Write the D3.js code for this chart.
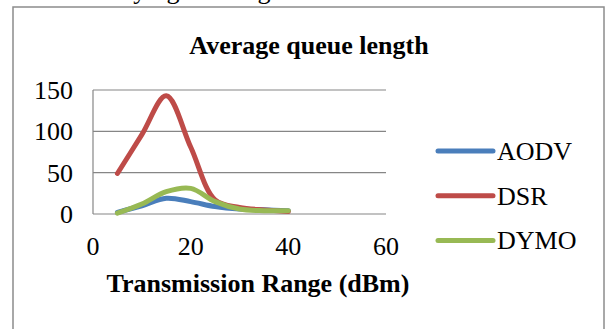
<!DOCTYPE html>
<html>
<head>
<meta charset="utf-8">
<script src="https://cdn.jsdelivr.net/npm/d3@7"></script>
<style>
  body { margin: 0; background: #fff; }
  svg { display: block; font-family: "Liberation Serif", "Times New Roman", serif; }
</style>
</head>
<body>
<div id="chart"></div>
<script>
// data
const ranges = [5, 10, 15, 20, 25, 30, 35, 40];
const aodv = [2, 10, 19, 15, 9, 6, 5, 4];
const dsr = [49, 96, 143, 81, 17, 8, 5, 3];
const dymo = [1, 12, 27, 31, 15, 6, 4, 4];
const seriesNames = ['AODV', 'DSR', 'DYMO'];
const seriesColors = ['#4a7ebb', '#be4b48', '#98b954'];
const xTicks = [0, 20, 40, 60];
const yTicks = [0, 50, 100, 150];

const W = 607, H = 329;
const plot = { left: 93, right: 386, top: 90, bottom: 214 };

const svg = d3.select('#chart').append('svg')
    .attr('width', W)
    .attr('height', H);

// bit of the page text above the chart, cut off by the top edge
svg.append('text')
    .attr('x', 100)
    .attr('y', -1)
    .style('font-size', '26px')
    .text('varying the range');

// chart frame
svg.append('rect')
    .attr('x', 13)
    .attr('y', 7)
    .attr('width', 591)
    .attr('height', 340)
    .attr('fill', 'none')
    .attr('stroke', '#8c8c8c')
    .attr('stroke-width', 1.5);

const x = d3.scaleLinear().domain([0, 60]).range([plot.left, plot.right]);
const y = d3.scaleLinear().domain([0, 150]).range([plot.bottom, plot.top]);

// gridlines
svg.append('g')
    .selectAll('line')
    .data(yTicks)
    .join('line')
    .attr('x1', plot.left)
    .attr('x2', plot.right)
    .attr('y1', d => y(d))
    .attr('y2', d => y(d))
    .attr('stroke', '#868686')
    .attr('stroke-width', 1.2);

// y axis line
svg.append('line')
    .attr('x1', plot.left)
    .attr('x2', plot.left)
    .attr('y1', plot.top)
    .attr('y2', plot.bottom)
    .attr('stroke', '#868686')
    .attr('stroke-width', 1.2);

// tick labels
svg.append('g')
    .selectAll('text')
    .data(yTicks)
    .join('text')
    .attr('x', plot.left - 20)
    .attr('y', d => y(d) + 9)
    .attr('text-anchor', 'end')
    .style('font-size', '26px')
    .text(d => d);

svg.append('g')
    .selectAll('text')
    .data(xTicks)
    .join('text')
    .attr('x', d => x(d))
    .attr('y', 255)
    .attr('text-anchor', 'middle')
    .style('font-size', '26px')
    .text(d => d);

// titles
svg.append('text')
    .attr('x', 309)
    .attr('y', 54)
    .attr('text-anchor', 'middle')
    .style('font-size', '26px')
    .style('font-weight', 'bold')
    .text('Average queue length');

svg.append('text')
    .attr('x', 258)
    .attr('y', 292)
    .attr('text-anchor', 'middle')
    .style('font-size', '26px')
    .style('font-weight', 'bold')
    .text('Transmission Range (dBm)');

// lines
const line = d3.line()
    .x(d => x(d[0]))
    .y(d => y(d[1]))
    .curve(d3.curveCatmullRom.alpha(0.5));

const allSeries = [aodv, dsr, dymo];
allSeries.forEach((vals, i) => {
    svg.append('path')
        .datum(d3.zip(ranges, vals))
        .attr('d', line)
        .attr('fill', 'none')
        .attr('stroke', seriesColors[i])
        .attr('stroke-width', 5)
        .attr('stroke-linecap', 'round')
        .attr('stroke-linejoin', 'round');
});

// legend
const legend = svg.append('g')
    .selectAll('g')
    .data(seriesNames)
    .join('g')
    .attr('transform', (d, i) => `translate(438,${151 + i * 44.7})`);

legend.append('line')
    .attr('x1', 0)
    .attr('x2', 55)
    .attr('stroke', (d, i) => seriesColors[i])
    .attr('stroke-width', 5)
    .attr('stroke-linecap', 'round');

legend.append('text')
    .attr('x', 59)
    .attr('y', 9)
    .style('font-size', '26px')
    .text(d => d);
</script>
</body>
</html>
